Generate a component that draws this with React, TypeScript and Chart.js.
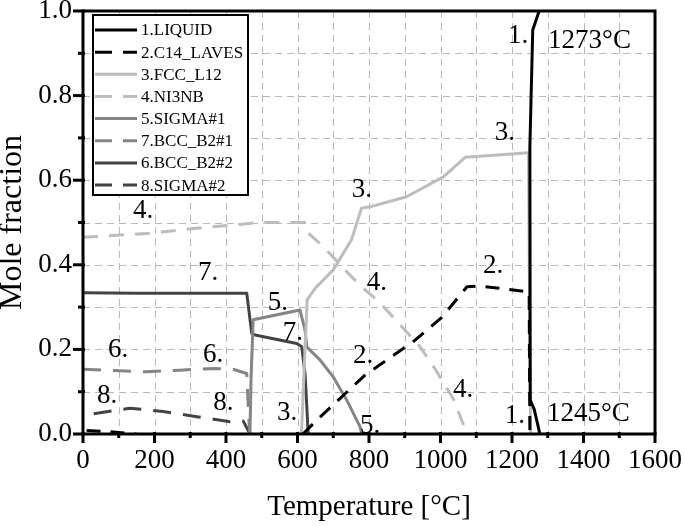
import React, { useEffect, useRef } from 'react';
import { Chart, registerables } from 'chart.js';

Chart.register(...registerables);

// ---- data (temperature °C / mole fraction) ----
const liquidT = [1278, 1262, 1251, 1250, 1258, 1276];
const liquidF = [0, 0.059, 0.08, 0.678, 0.955, 1.0];

const c14T = [10, 65, 150, 600, 615, 663, 790, 923, 1003, 1074, 1105, 1170, 1248, 1250];
const c14F = [0.008, 0.006, 0, null, 0, 0.04, 0.14, 0.218, 0.275, 0.348, 0.35, 0.344, 0.336, 0];

const fccT = [611, 627, 650, 700, 751, 779, 803, 905, 1008, 1069, 1150, 1246, 1252];
const fccF = [0, 0.317, 0.345, 0.388, 0.459, 0.534, 0.537, 0.561, 0.608, 0.654, 0.659, 0.665, 0];

const ni3nbT = [0, 178, 336, 495, 620, 630, 672, 751, 790, 831, 887, 943, 987, 1038, 1074];
const ni3nbF = [0.465, 0.474, 0.488, 0.5, 0.5, 0.475, 0.443, 0.372, 0.34, 0.31, 0.258, 0.206, 0.151, 0.08, 0];

const sigma1T = [467, 470, 476, 607, 621, 626, 663, 700, 738, 775, 780];
const sigma1F = [0, 0.13, 0.27, 0.293, 0.246, 0.206, 0.175, 0.135, 0.08, 0.017, 0];

const bcc1T = [0, 178, 271, 365, 420, 458, 466];
const bcc1F = [0.153, 0.147, 0.151, 0.155, 0.153, 0.143, 0];

const bcc2T = [0, 150, 458, 472, 481, 598, 612, 621, 627, 630];
const bcc2F = [0.334, 0.333, 0.333, 0.238, 0.234, 0.214, 0.206, 0.143, 0.049, 0];

const sigma2T = [30, 131, 224, 318, 411, 448, 467];
const sigma2F = [0.048, 0.061, 0.053, 0.041, 0.029, 0.031, 0];

const seriesNames = ['1.LIQUID', '2.C14_LAVES', '3.FCC_L12', '4.NI3NB', '5.SIGMA#1', '7.BCC_B2#1', '6.BCC_B2#2', '8.SIGMA#2'];

const xMin = 0;
const xMax = 1600;
const yMin = 0;
const yMax = 1;

// in-plot labels (text, temperature, fraction)
const annoText = ['1273°C', '1.', '3.', '1245°C', '1.', '4.', '2.', '2.', '3.', '4.', '4.', '7.', '5.', '7.', '6.', '6.', '8.', '8.', '3.', '5.'];
const annoT = [1301, 1189, 1152, 1298, 1180, 1035, 755, 1119, 752, 794, 140, 322, 517, 559, 70, 336, 39, 364, 543, 775];
const annoF = [0.912, 0.924, 0.695, 0.031, 0.026, 0.0875, 0.168, 0.381, 0.56, 0.34, 0.511, 0.364, 0.293, 0.222, 0.182, 0.17, 0.073, 0.057, 0.033, 0.002];

const FONT = '"Liberation Serif", "Times New Roman", serif';

const zip = (t: number[], f: (number | null)[]) => t.map((v, i) => ({ x: v, y: f[i] }));

const overlayPlugin = {
  id: 'overlay',
  beforeDatasetsDraw(chart: any) {
    const { ctx, chartArea: a, scales } = chart;
    const x = scales.x;
    const y = scales.y;
    ctx.save();
    ctx.strokeStyle = '#b8b8b8';
    ctx.lineWidth = 1;
    ctx.setLineDash([7, 5]);
    x.ticks.forEach((t: any) => {
      if (t.value <= xMin || t.value >= xMax) return;
      const px = Math.round(x.getPixelForValue(t.value)) + 0.5;
      ctx.beginPath();
      ctx.moveTo(px, a.top);
      ctx.lineTo(px, a.bottom);
      ctx.stroke();
    });
    y.ticks.forEach((t: any) => {
      if (t.value <= yMin + 1e-9 || t.value >= yMax - 1e-9) return;
      const py = Math.round(y.getPixelForValue(t.value)) + 0.5;
      ctx.beginPath();
      ctx.moveTo(a.left, py);
      ctx.lineTo(a.right, py);
      ctx.stroke();
    });
    ctx.restore();
  },
  afterDatasetsDraw(chart: any) {
    const { ctx, chartArea: a, scales } = chart;
    const x = scales.x;
    const y = scales.y;
    ctx.save();
    ctx.setLineDash([]);
    ctx.strokeStyle = '#000';
    ctx.lineWidth = 3;
    ctx.strokeRect(a.left, a.top, a.right - a.left, a.bottom - a.top);
    ctx.lineWidth = 3;
    x.ticks.forEach((t: any) => {
      const px = x.getPixelForValue(t.value);
      const major = Math.round(t.value) % 200 === 0;
      ctx.beginPath();
      ctx.moveTo(px, a.bottom - 2);
      ctx.lineTo(px, a.bottom + (major ? 9 : 4));
      ctx.stroke();
    });
    y.ticks.forEach((t: any) => {
      const py = y.getPixelForValue(t.value);
      const major = Math.round(t.value * 10) % 2 === 0;
      ctx.beginPath();
      ctx.moveTo(a.left + 2, py);
      ctx.lineTo(a.left - (major ? 10 : 5), py);
      ctx.stroke();
    });
    ctx.restore();
  },
  afterDraw(chart: any) {
    const { ctx, scales } = chart;
    const x = scales.x;
    const y = scales.y;
    ctx.save();
    // annotations
    ctx.fillStyle = '#000';
    ctx.font = `27px ${FONT}`;
    ctx.textAlign = 'left';
    ctx.textBaseline = 'alphabetic';
    annoText.forEach((txt, i) => {
      ctx.fillText(txt, x.getPixelForValue(annoT[i]), y.getPixelForValue(annoF[i]));
    });
    // legend box
    const lx = 93;
    const ly = 15;
    const lw = 155;
    const lh = 180;
    ctx.fillStyle = '#fff';
    ctx.fillRect(lx, ly, lw, lh);
    ctx.strokeStyle = '#000';
    ctx.lineWidth = 2;
    ctx.setLineDash([]);
    ctx.strokeRect(lx, ly, lw, lh);
    ctx.font = `17px ${FONT}`;
    ctx.textBaseline = 'middle';
    chart.data.datasets.forEach((ds: any, i: number) => {
      const cy = ly + 15 + i * 22.15;
      ctx.strokeStyle = ds.borderColor;
      ctx.lineWidth = 3;
      ctx.setLineDash(ds.borderDash && ds.borderDash.length ? [17, 11] : []);
      ctx.beginPath();
      ctx.moveTo(lx + 2, cy);
      ctx.lineTo(lx + 44, cy);
      ctx.stroke();
      ctx.fillStyle = '#000';
      ctx.fillText(ds.label, lx + 48, cy + 1);
    });
    ctx.restore();
  },
};

export default function App() {
  const ref = useRef<HTMLCanvasElement | null>(null);

  useEffect(() => {
    if (!ref.current) return;
    const mk = (label: string, t: number[], f: (number | null)[], color: string, dash: number[]) => ({
      label,
      data: zip(t, f),
      borderColor: color,
      backgroundColor: color,
      borderWidth: 3,
      borderDash: dash,
      borderJoinStyle: 'round' as const,
      pointRadius: 0,
      pointHoverRadius: 0,
      tension: 0,
      fill: false,
      spanGaps: false,
    });
    const black = '#000000';
    const light = '#bdbdbd';
    const mid = '#858585';
    const dark = '#434343';
    const chart = new Chart(ref.current, {
      type: 'line',
      data: {
        datasets: [
          mk(seriesNames[0], liquidT, liquidF, black, []),
          mk(seriesNames[1], c14T, c14F, black, [14, 10]),
          mk(seriesNames[2], fccT, fccF, light, []),
          mk(seriesNames[3], ni3nbT, ni3nbF, light, [15, 11]),
          mk(seriesNames[4], sigma1T, sigma1F, mid, []),
          mk(seriesNames[5], bcc1T, bcc1F, mid, [18, 12]),
          mk(seriesNames[6], bcc2T, bcc2F, dark, []),
          mk(seriesNames[7], sigma2T, sigma2F, dark, [18, 12]),
        ],
      },
      options: {
        animation: false,
        responsive: false,
        devicePixelRatio: 1,
        layout: { padding: { top: 11, right: 30, left: 0, bottom: 0 } },
        plugins: {
          legend: { display: false },
          tooltip: { enabled: false },
        },
        scales: {
          x: {
            type: 'linear',
            min: xMin,
            max: xMax,
            afterFit(s: any) {
              s.height = 92;
              s.paddingLeft = 0;
              s.paddingRight = 0;
            },
            grid: { display: false, drawTicks: false },
            border: { display: false },
            ticks: {
              stepSize: 100,
              autoSkip: false,
              maxRotation: 0,
              padding: 11,
              color: '#000',
              font: { family: FONT, size: 27 },
              callback: (v: any) => (Math.round(v) % 200 === 0 ? String(v) : ''),
            },
            title: {
              display: true,
              text: 'Temperature [°C]',
              color: '#000',
              font: { family: FONT, size: 29 },
              padding: { top: 0, bottom: 1 },
            },
          },
          y: {
            type: 'linear',
            min: yMin,
            max: yMax,
            afterFit(s: any) {
              s.width = 83;
              s.paddingTop = 0;
              s.paddingBottom = 0;
            },
            grid: { display: false, drawTicks: false },
            border: { display: false },
            ticks: {
              stepSize: 0.1,
              autoSkip: false,
              padding: 11,
              color: '#000',
              font: { family: FONT, size: 27 },
              callback: (v: any) => (Math.round(v * 10) % 2 === 0 ? Number(v).toFixed(1) : ''),
            },
            title: {
              display: true,
              text: 'Mole fraction',
              color: '#000',
              font: { family: FONT, size: 32 },
              padding: { top: -7, bottom: 0 },
            },
          },
        },
      },
      plugins: [overlayPlugin],
    } as any);
    return () => chart.destroy();
  }, []);

  return (
    <div style={{ position: 'absolute', left: 0, top: 0, width: 685, height: 526, background: '#fff' }}>
      <canvas ref={ref} width={685} height={526} />
    </div>
  );
}
